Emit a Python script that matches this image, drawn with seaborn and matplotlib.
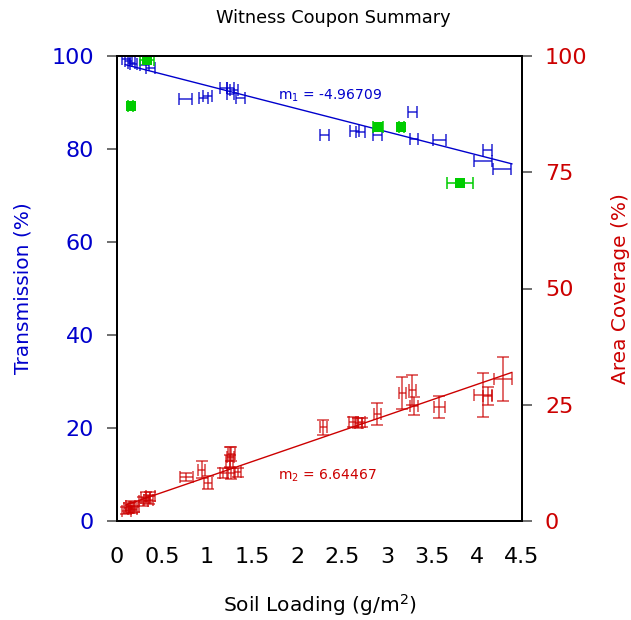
import numpy as np
import pandas as pd
import matplotlib
matplotlib.use("Agg")
import matplotlib.pyplot as plt
import seaborn as sns

# Transmission (blue, left axis)
blue_x = [0.10, 0.13, 0.16, 0.18, 0.31, 0.37, 0.76, 0.96, 1.01, 1.18, 1.26, 1.30, 1.26, 1.37,
          2.30, 2.64, 2.70, 2.89, 3.28, 3.30, 3.58, 4.07, 4.12, 4.28]
blue_y = [99.4, 98.9, 98.4, 98.2, 98.0, 97.4, 90.8, 91.0, 91.4, 93.1, 93.1, 92.7, 91.8, 91.0,
          83.0, 83.9, 83.7, 83.0, 88.0, 82.2, 81.9, 77.4, 79.8, 75.7]
blue_xerr = [0.04, 0.04, 0.04, 0.04, 0.05, 0.05, 0.07, 0.05, 0.05, 0.04, 0.04, 0.04, 0.04, 0.05,
             0.05, 0.05, 0.05, 0.05, 0.05, 0.05, 0.07, 0.10, 0.05, 0.10]

# Green reference coupons (left axis)
green_x = [0.15, 0.33, 2.90, 3.16, 3.81]
green_y = [89.3, 99.1, 84.7, 84.7, 72.7]
green_xerr = [0.03, 0.08, 0.06, 0.03, 0.14]

# Area coverage (red, right axis)
red_x = [0.10, 0.13, 0.15, 0.17, 0.19, 0.29, 0.32, 0.35, 0.37, 0.77, 0.94, 1.01, 1.18, 1.25, 1.26,
         1.27, 1.27, 1.34, 2.29, 2.62, 2.68, 2.72, 2.89, 3.17, 3.28, 3.30, 3.58, 4.07, 4.12, 4.29]
red_y = [2.2, 2.8, 3.3, 2.5, 3.0, 4.2, 5.0, 4.6, 5.3, 9.5, 11.0, 8.2, 10.3, 12.8, 13.8,
         14.5, 10.3, 10.5, 20.2, 21.3, 21.1, 21.2, 23.0, 27.5, 28.2, 24.7, 24.5, 27.1, 26.9, 30.5]
red_xerr = [0.05, 0.05, 0.05, 0.05, 0.05, 0.05, 0.05, 0.05, 0.05, 0.07, 0.04, 0.04, 0.04, 0.04, 0.04,
            0.04, 0.04, 0.04, 0.04, 0.04, 0.04, 0.04, 0.04, 0.04, 0.04, 0.05, 0.06, 0.10, 0.05, 0.10]
red_yerr = [0.8, 1.0, 1.0, 0.8, 1.0, 1.0, 1.2, 1.0, 1.0, 0.8, 1.8, 1.4, 1.0, 1.5, 2.1,
            1.5, 1.2, 1.0, 1.6, 1.0, 1.0, 1.0, 2.4, 3.4, 3.2, 2.0, 2.3, 4.7, 2.0, 4.7]

# Linear fits
fit_x = [0.09, 4.39]
m1, b1 = -4.96709, 98.6
m2, b2 = 6.64467, 2.8

x_ticks = [0, 0.5, 1, 1.5, 2, 2.5, 3, 3.5, 4, 4.5]
x_ticklabels = ["0", "0.5", "1", "1.5", "2", "2.5", "3", "3.5", "4", "4.5"]
left_ticks = [0, 20, 40, 60, 80, 100]
right_ticks = [0, 25, 50, 75, 100]

BLUE = "#0000cc"
RED = "#cc0000"
GREEN = "#00cc00"

sns.set_style("white")
plt.rcParams["font.family"] = ["DejaVu Sans"]
plt.rcParams["text.color"] = "black"

fig = plt.figure(figsize=(6.31, 6.20), dpi=100)
ax = fig.add_axes([117 / 631, 1 - 521 / 620, (522 - 117) / 631, (521 - 56) / 620])
ax2 = ax.twinx()

# Blue data
ax.errorbar(blue_x, blue_y, xerr=blue_xerr, fmt="none", ecolor=BLUE, elinewidth=1.1,
            capsize=4, capthick=1.1, alpha=0.85, zorder=3)
fit1 = pd.DataFrame({"x": fit_x, "y": [m1 * v + b1 for v in fit_x]})
sns.lineplot(data=fit1, x="x", y="y", ax=ax, color=BLUE, linewidth=1.0, zorder=4)

# Green data
ax.errorbar(green_x, green_y, xerr=green_xerr, fmt="none", ecolor=GREEN, elinewidth=1.1,
            capsize=4, capthick=1.1, zorder=5)
gdf = pd.DataFrame({"x": green_x, "y": green_y})
sns.scatterplot(data=gdf, x="x", y="y", ax=ax, marker="s", s=60, color=GREEN,
                edgecolor=GREEN, linewidth=0, zorder=6)

# Red data on right axis
ax2.errorbar(red_x, red_y, xerr=red_xerr, yerr=red_yerr, fmt="none", ecolor=RED,
             elinewidth=1.1, capsize=4.5, capthick=1.1, alpha=0.75, zorder=3)
fit2 = pd.DataFrame({"x": fit_x, "y": [m2 * v + b2 for v in fit_x]})
sns.lineplot(data=fit2, x="x", y="y", ax=ax2, color=RED, linewidth=1.0, zorder=4)

ax.text(1.79, 91.4, r"m$_1$ = -4.96709", color=BLUE, fontsize=10, ha="left", va="center")
ax2.text(1.79, 9.7, r"m$_2$ = 6.64467", color=RED, fontsize=10, ha="left", va="center")

ax.set_xlim(0, 4.5)
ax.set_ylim(0, 100)
ax2.set_ylim(0, 100)
ax.set_xticks(x_ticks)
ax.set_xticklabels(x_ticklabels)
ax.set_yticks(left_ticks)
ax2.set_yticks(right_ticks)

tick_kw = dict(direction="out", length=7.5, width=1.2, color="#555555", labelsize=16, pad=9)
ax.tick_params(axis="x", labelcolor="black", **tick_kw)
ax.tick_params(axis="y", labelcolor=BLUE, **tick_kw)
ax2.tick_params(axis="y", labelcolor=RED, **tick_kw)
ax.tick_params(axis="x", pad=11)

for a in (ax, ax2):
    for s in a.spines.values():
        s.set_color("black")
        s.set_linewidth(1.4)
        s.set_visible(True)

ax.set_xlabel(r"Soil Loading (g/m$^2$)", fontsize=14.5, color="black", labelpad=18)
ax.set_ylabel("Transmission (%)", fontsize=14.5, color=BLUE, labelpad=14)
ax2.set_ylabel("Area Coverage (%)", fontsize=14.5, color=RED, labelpad=17)
fig.text(333 / 631, 1 - 18 / 620, "Witness Coupon Summary", fontsize=12.8,
         ha="center", va="center", color="black")

fig.savefig("out.png", dpi=100)
